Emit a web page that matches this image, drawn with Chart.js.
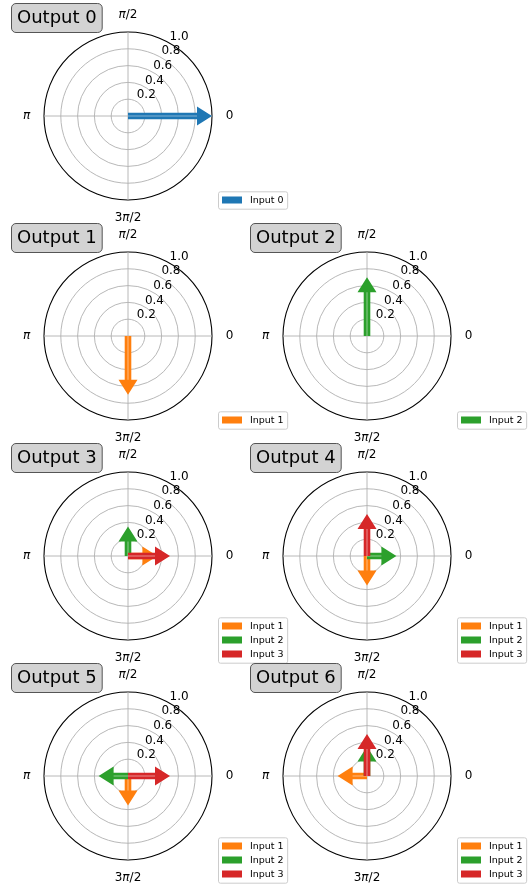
<!DOCTYPE html>
<html>
<head>
<meta charset="utf-8">
<script src="https://cdn.jsdelivr.net/npm/chart.js@4.4.0/dist/chart.umd.min.js"></script>
<style>
  html, body { margin: 0; padding: 0; background: #fff; }
  body { position: relative; width: 529px; height: 886px; overflow: hidden; }
  canvas { position: absolute; }
</style>
</head>
<body>
<script>
// Chart data
const outputTitles = ['Output 0', 'Output 1', 'Output 2', 'Output 3', 'Output 4', 'Output 5', 'Output 6'];
const inputNames = ['Input 0', 'Input 1', 'Input 2', 'Input 3'];
const inputColors = ['#1f77b4', '#ff7f0e', '#2ca02c', '#d62728'];

// direction labels in the order the radar scale lays them out (clockwise from the top)
const directionLabels = ['π/2', '0', '3π/2', 'π'];
const radialTicks = [0.2, 0.4, 0.6, 0.8, 1.0];

// one entry per output: which inputs, pointing where, how long
const arrowInputs = [[0], [1], [2], [1, 2, 3], [1, 2, 3], [1, 2, 3], [1, 2, 3]];
const arrowDirections = [
    ['0'],
    ['3π/2'],
    ['π/2'],
    ['0', 'π/2', '0'],
    ['3π/2', '0', 'π/2'],
    ['3π/2', 'π', '0'],
    ['π', 'π/2', 'π/2']
];
const arrowLengths = [
    [1.0],
    [0.7],
    [0.7],
    [0.35, 0.35, 0.5],
    [0.35, 0.35, 0.5],
    [0.35, 0.35, 0.5],
    [0.35, 0.35, 0.5]
];

Chart.defaults.font.family = '"DejaVu Sans", sans-serif';

const FONT = '"DejaVu Sans", sans-serif';

function drawMathLabel(ctx, text, x, y) {
    // π is set in italic, like matplotlib mathtext
    const parts = text.split(/(π)/).filter(p => p);
    const fonts = parts.map(p => (p === 'π' ? 'italic 12px ' : '12px ') + FONT);
    let total = 0;
    const widths = parts.map((p, i) => {
        ctx.font = fonts[i];
        const w = ctx.measureText(p).width;
        total += w;
        return w;
    });
    let cx = x - total / 2;
    ctx.textAlign = 'left';
    ctx.textBaseline = 'middle';
    parts.forEach((p, i) => {
        ctx.font = fonts[i];
        ctx.fillText(p, cx, y);
        cx += widths[i];
    });
}

function roundRect(ctx, x, y, w, h, r) {
    ctx.beginPath();
    ctx.moveTo(x + r, y);
    ctx.lineTo(x + w - r, y);
    ctx.arcTo(x + w, y, x + w, y + r, r);
    ctx.lineTo(x + w, y + h - r);
    ctx.arcTo(x + w, y + h, x + w - r, y + h, r);
    ctx.lineTo(x + r, y + h);
    ctx.arcTo(x, y + h, x, y + h - r, r);
    ctx.lineTo(x, y + r);
    ctx.arcTo(x, y, x + r, y, r);
    ctx.closePath();
}

function drawArrow(ctx, x0, y0, x1, y1, color) {
    const len = Math.hypot(x1 - x0, y1 - y0);
    if (!len) return;
    const ux = (x1 - x0) / len, uy = (y1 - y0) / len;
    const nx = -uy, ny = ux;
    const sw = 3.3, hw = 9.5, hl = 15;
    const bx = x1 - ux * hl, by = y1 - uy * hl;

    ctx.save();
    ctx.beginPath();
    ctx.moveTo(x0 + nx * sw, y0 + ny * sw);
    ctx.lineTo(bx + nx * sw, by + ny * sw);
    ctx.lineTo(bx + nx * hw, by + ny * hw);
    ctx.lineTo(x1, y1);
    ctx.lineTo(bx - nx * hw, by - ny * hw);
    ctx.lineTo(bx - nx * sw, by - ny * sw);
    ctx.lineTo(x0 - nx * sw, y0 - ny * sw);
    ctx.closePath();
    ctx.fillStyle = color;
    ctx.fill();

    // lighter stripe down the middle of the shaft
    ctx.beginPath();
    ctx.moveTo(x0, y0);
    ctx.lineTo(bx, by);
    ctx.globalAlpha = 0.3;
    ctx.strokeStyle = '#fff';
    ctx.lineWidth = 1.6;
    ctx.stroke();
    ctx.restore();
}

function makePolarDecor(title) {
    return {
        id: 'polarDecor',
        afterDatasetsDraw(chart) {
            const ctx = chart.ctx;
            const scale = chart.scales.r;
            chart.data.datasets.forEach((ds, i) => {
                const meta = chart.getDatasetMeta(i);
                const idx = ds.data.findIndex(v => v !== null);
                const pt = meta.data[idx];
                drawArrow(ctx, scale.xCenter, scale.yCenter, pt.x, pt.y, ds.borderColor);
            });
        },
        afterDraw(chart) {
            const ctx = chart.ctx;
            const scale = chart.scales.r;
            const xc = scale.xCenter, yc = scale.yCenter;
            ctx.save();
            ctx.fillStyle = '#000';

            // radial tick labels along a slanted line, upper right
            ctx.font = '12px ' + FONT;
            ctx.textAlign = 'center';
            ctx.textBaseline = 'middle';
            radialTicks.forEach(v => {
                const d = scale.getDistanceFromCenterForValue(v);
                ctx.fillText(v.toFixed(1), xc + 10 + 0.49 * d, yc - 6 - 0.875 * d);
            });

            // angle labels outside the rim
            directionLabels.forEach((lab, i) => {
                const p = scale.getPointPosition(i, scale.drawingArea + 17.5);
                drawMathLabel(ctx, lab, p.x, p.y);
            });

            // title box
            ctx.font = '18px ' + FONT;
            const tw = ctx.measureText(title).width;
            const bw = tw + 11, bh = 29;
            const bx = xc - 116.5, by = yc - 112.5;
            roundRect(ctx, bx, by, bw, bh, 4.5);
            ctx.fillStyle = '#d3d3d3';
            ctx.fill();
            ctx.lineWidth = 1;
            ctx.strokeStyle = '#555';
            ctx.stroke();
            ctx.fillStyle = '#000';
            ctx.textAlign = 'center';
            ctx.textBaseline = 'middle';
            ctx.fillText(title, bx + bw / 2, by + bh / 2 + 0.5);

            // legend, vertically centred on the bottom of the rim
            const items = chart.data.datasets;
            ctx.font = '9.5px ' + FONT;
            const maxText = Math.max(...items.map(d => ctx.measureText(d.label).width));
            const lw = 3.5 + 20 + 8 + maxText + 4;
            const lh = 3.4 + 14 * items.length;
            const lx = xc + 90.5, ly = yc + 84.5 - lh / 2;
            roundRect(ctx, lx, ly, lw, lh, 2);
            ctx.fillStyle = 'rgba(255,255,255,0.8)';
            ctx.fill();
            ctx.strokeStyle = '#cccccc';
            ctx.stroke();
            items.forEach((d, i) => {
                const ry = ly + 8.2 + 14 * i;
                ctx.fillStyle = d.borderColor;
                ctx.fillRect(lx + 3.5, ry - 3.5, 20, 7);
                ctx.fillStyle = '#000';
                ctx.textAlign = 'left';
                ctx.textBaseline = 'middle';
                ctx.fillText(d.label, lx + 31.5, ry + 0.5);
            });
            ctx.restore();
        }
    };
}

function buildDatasets(k) {
    return arrowInputs[k].map((inp, j) => ({
        label: inputNames[inp],
        data: directionLabels.map(d => (d === arrowDirections[k][j] ? arrowLengths[k][j] : null)),
        borderColor: inputColors[inp],
        backgroundColor: inputColors[inp],
        borderWidth: 0,
        pointRadius: 0,
        fill: false,
        showLine: false
    }));
}

function renderOutput(k) {
    const row = k === 0 ? 0 : Math.ceil(k / 2);
    const col = k === 0 ? 0 : (k - 1) % 2;
    const canvas = document.createElement('canvas');
    canvas.width = 290;
    canvas.height = 240;
    canvas.style.left = (col === 0 ? 0 : 239) + 'px';
    canvas.style.top = (220 * row) + 'px';
    document.body.appendChild(canvas);

    new Chart(canvas.getContext('2d'), {
        type: 'radar',
        data: {
            labels: directionLabels,
            datasets: buildDatasets(k)
        },
        options: {
            responsive: false,
            animation: false,
            events: [],
            layout: { padding: { left: 44, right: 78, top: 32, bottom: 40 } },
            plugins: {
                legend: { display: false },
                tooltip: { enabled: false },
                title: { display: false }
            },
            scales: {
                r: {
                    min: 0,
                    max: 1,
                    ticks: { display: false, stepSize: 0.2 },
                    pointLabels: { display: false },
                    grid: {
                        circular: true,
                        color: c => (c.tick && c.tick.value >= 0.999 ? '#000' : '#b0b0b0'),
                        lineWidth: c => (c.tick && c.tick.value >= 0.999 ? 1.1 : 0.9)
                    },
                    angleLines: { color: '#b0b0b0', lineWidth: 0.9 }
                }
            }
        },
        plugins: [makePolarDecor(outputTitles[k])]
    });
}

window.onload = () => {
    outputTitles.forEach((t, k) => renderOutput(k));
};
</script>
</body>
</html>
